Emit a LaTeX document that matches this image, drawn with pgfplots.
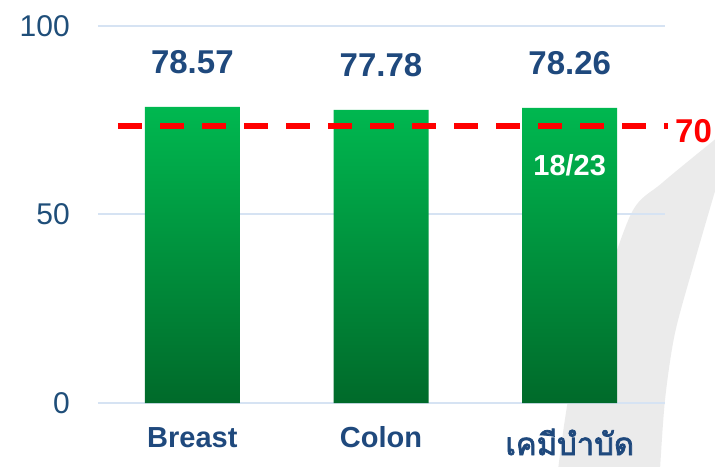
\documentclass[border=0pt]{standalone}
\usepackage{pgfplots}
\pgfplotsset{compat=1.18}
\usepackage{fontspec}
\setmainfont{Liberation Sans}
\newfontfamily\thaifont[Script=Thai, AutoFakeBold=2.5]{Loma}
\definecolor{ticblue}{RGB}{31,78,121}
\definecolor{valblue}{RGB}{31,73,125}
\definecolor{gridblue}{RGB}{214,227,243}
\definecolor{gtop}{RGB}{0,184,80}
\definecolor{gmid}{RGB}{0,162,69}
\definecolor{gbot}{RGB}{0,106,42}
\definecolor{swoosh}{RGB}{235,235,235}
\definecolor{lred}{RGB}{255,0,0}
\begin{document}
\begin{tikzpicture}
\path[use as bounding box] (-98bp,-64bp) rectangle (617bp,403bp);
\fill[swoosh] plot[smooth] coordinates {(620bp,266bp) (564bp,220bp) (534bp,191bp) (502bp,103bp) (474bp,23bp) (460bp,-67bp)} -- (562bp,-67bp) -- plot[smooth] coordinates {(562bp,-67bp) (567bp,3bp) (577bp,70bp) (597bp,143bp) (620bp,222bp)} -- cycle;
\begin{axis}[
  at={(0,0)}, anchor=south west, scale only axis,
  width=567bp, height=377bp,
  xmin=-0.5, xmax=2.505, ymin=0, ymax=100,
  axis line style={draw=none},
  clip=false,
  major tick length=0pt,
  ytick={0,50,100},
  xtick={0,1,2},
  xticklabels={Breast,Colon,{\raisebox{-8bp}{\thaifont\bfseries\fontsize{31bp}{36bp}\selectfont เคมีบำบัด}}},
  ymajorgrids,
  grid style={gridblue, line width=2bp},
  /pgf/number format/assume math mode=true,
  yticklabel style={font=\fontsize{30bp}{36bp}\selectfont, text=ticblue, anchor=east, inner sep=0pt, xshift=-28bp},
  xticklabel style={font=\bfseries\fontsize{29bp}{34bp}\selectfont, text=valblue, anchor=base, inner sep=0pt, yshift=-44bp},
]
\addplot[ybar, bar width=95bp, bar shift=0pt, draw=none,
  top color=gtop, middle color=gmid, bottom color=gbot,
  point meta=explicit symbolic,
  nodes near coords,
  every node near coord/.append style={font=\bfseries\fontsize{33bp}{40bp}\selectfont, text=valblue, anchor=center, yshift=45bp}]
  coordinates {(0,78.57) [78.57] (1,77.78) [77.78] (2,78.26) [78.26]};
\addplot[lred, line width=6bp, dash pattern=on 24bp off 18bp] coordinates {(-0.394,73.5) (2.52,73.5)};
\node[text=white, font=\bfseries\fontsize{29bp}{34bp}\selectfont] at (axis cs:2,63.1) {18/23};
\node[text=lred, font=\bfseries\fontsize{33bp}{38bp}\selectfont, anchor=west, inner sep=0pt] at (axis cs:2.505,73.5) [xshift=10bp, yshift=-5bp] {70};
\end{axis}
\end{tikzpicture}
\end{document}
